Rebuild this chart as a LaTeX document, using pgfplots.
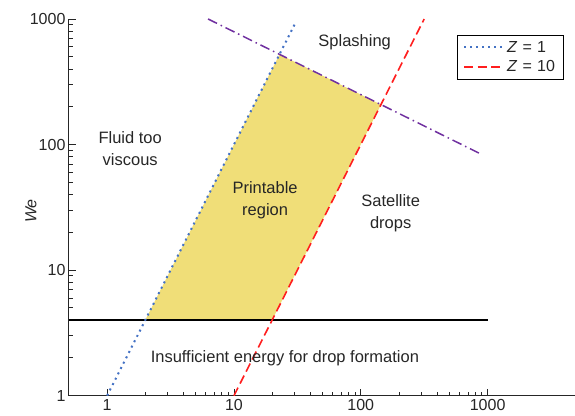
\documentclass[border=0pt]{standalone}
\usepackage{fontspec}
\setmainfont{Liberation Sans}
\usepackage{pgfplots}
\pgfplotsset{compat=1.18}
\definecolor{zblue}{RGB}{68,114,196}
\definecolor{zred}{RGB}{255,30,30}
\definecolor{zpurple}{RGB}{112,48,160}
\definecolor{zfill}{RGB}{240,222,120}
\definecolor{txt}{RGB}{38,38,38}
\begin{document}
\begin{tikzpicture}
\begin{axis}[
  name=ax,
  scale only axis, width=506pt, height=377pt,
  xmode=log, ymode=log,
  xmin=0.5, xmax=4840, ymin=1, ymax=1000,
  axis x line*=bottom, axis y line*=left,
  axis line style={-, line width=1pt, black!85},
  xtick align=inside, ytick align=inside,
  major tick length=7pt, minor tick length=4pt,
  every major tick/.append style={black!85, line width=0.8pt},
  every minor tick/.append style={black!85, line width=0.8pt},
  xtick={1,10,100,1000}, xticklabels={1,10,100,1000},
  ytick={1,10,100,1000}, yticklabels={1,10,100,1000},
  ticklabel style={font=\fontsize{16}{19}\selectfont, text=txt},
  ylabel={\textit{We}},
  ylabel style={at={(axis description cs:-0.075,0.49)}, anchor=center, rotate=0, font=\fontsize{16}{19}\selectfont, text=txt},
  legend style={at={(axis description cs:0.978,0.958)}, anchor=north east,
    draw=black, line width=0.8pt, font=\fontsize{16}{19}\selectfont, text=txt,
    inner xsep=6pt, inner ysep=4pt, row sep=3pt},
  legend cell align=left,
  legend image code/.code={\draw[#1] (0cm,0cm) -- (1.4cm,0cm);},
]
\addplot[fill=zfill, draw=none, forget plot] coordinates {(2,4) (20,4) (144.3,208) (22.87,523)} -- cycle;
\addplot[black, line width=1.4pt, forget plot] coordinates {(0.5,4) (1000,4)};
\addplot[zpurple, line width=1.5pt, dash pattern=on 10pt off 4pt on 1.5pt off 4pt, forget plot] coordinates {(6.25,1000) (900,83.3)};
\addplot[zblue, line width=2pt, dash pattern=on 2pt off 4pt] coordinates {(1,1) (30,900)};
\addlegendentry{\textit{Z}\,\,=\,\,1}
\addplot[zred, line width=1.6pt, dash pattern=on 9pt off 4.5pt] coordinates {(10,1) (316,1000)};
\addlegendentry{\textit{Z}\,\,=\,\,10}
\begin{scope}[every node/.style={font=\fontsize{16.5}{22}\selectfont, text=txt, align=center}]
\node at (axis cs:89.5,655) {Splashing};
\node at (axis cs:1.52,92) {Fluid too\\viscous};
\node at (axis cs:17.6,36.3) {Printable\\region};
\node at (axis cs:172,28.6) {Satellite\\drops};
\node at (axis cs:25.2,1.97) {Insufficient energy for drop formation};
\end{scope}
\end{axis}
\path ([shift={(-69pt,-20pt)}]ax.south west) rectangle ++(575pt,416pt);
\end{tikzpicture}
\end{document}
